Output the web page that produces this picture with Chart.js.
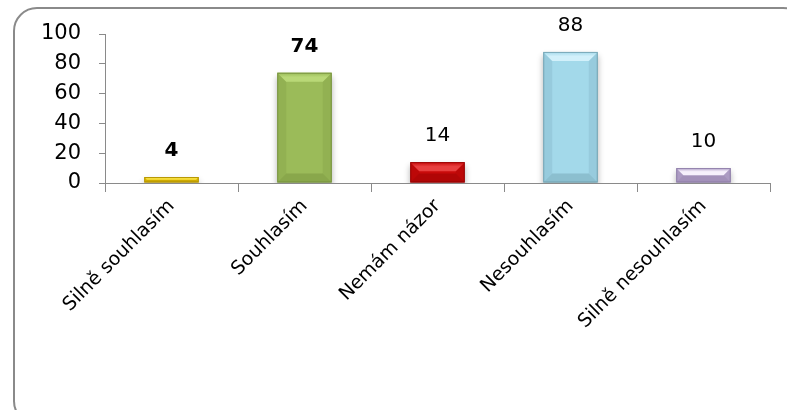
<!DOCTYPE html>
<html lang="cs">
<head>
<meta charset="UTF-8">
<title>Názory respondentů</title>
<script src="https://cdn.jsdelivr.net/npm/chart.js"></script>
<style>
    body {
        margin: 0;
        background: #fff;
    }
    .wrap {
        position: relative;
        width: 787px;
        height: 410px;
        overflow: hidden;
    }
    .frame {
        position: absolute;
        left: 13px;
        top: 7px;
        width: 790px;
        height: 414px;
        border: 2px solid #8a8a8a;
        border-radius: 24px;
    }
    #chart {
        position: absolute;
        left: 0;
        top: 0;
    }
</style>
</head>
<body>
<div class="wrap">
    <div class="frame"></div>
    <canvas id="chart" width="787" height="410"></canvas>
</div>

<script>
    const categories = ['Silně souhlasím', 'Souhlasím', 'Nemám názor', 'Nesouhlasím', 'Silně nesouhlasím'];
    const counts = [4, 74, 14, 88, 10];
    const yTicks = [0, 20, 40, 60, 80, 100];

    // barva plochy, světlá hrana nahoře, tmavá hrana dole / po stranách
    const faceColors  = ['#e8c000', '#9bbb59', '#c80a0a', '#a3d9ea', '#b7a6cc'];
    const lightColors = ['#f8e040', '#b9d877', '#e84040', '#d2f0fa', '#f6f0fc'];
    const darkColors  = ['#a88a00', '#6f8a38', '#8c0000', '#6a98a8', '#8474a0'];
    const boldLabels  = [true, true, false, false, false];

    const font = 'DejaVu Sans';

    // zkosené hrany sloupců (efekt "bevel")
    const bevelPlugin = {
        id: 'bevel',
        afterDatasetsDraw(chart) {
            const ctx = chart.ctx;
            const meta = chart.getDatasetMeta(0);
            meta.data.forEach((bar, i) => {
                const x0 = bar.x - bar.width / 2, x1 = bar.x + bar.width / 2;
                const y0 = bar.y, y1 = bar.base;
                const h = y1 - y0;
                const b = Math.min(9, h / 2);
                ctx.save();
                // boky
                ctx.fillStyle = darkColors[i];
                ctx.globalAlpha = 0.2;
                ctx.beginPath();
                ctx.moveTo(x0, y0); ctx.lineTo(x0 + b, y0 + b); ctx.lineTo(x0 + b, y1 - b); ctx.lineTo(x0, y1);
                ctx.closePath(); ctx.fill();
                ctx.beginPath();
                ctx.moveTo(x1, y0); ctx.lineTo(x1 - b, y0 + b); ctx.lineTo(x1 - b, y1 - b); ctx.lineTo(x1, y1);
                ctx.closePath(); ctx.fill();
                // spodní hrana
                ctx.globalAlpha = 0.4;
                ctx.beginPath();
                ctx.moveTo(x0, y1); ctx.lineTo(x1, y1); ctx.lineTo(x1 - b, y1 - b); ctx.lineTo(x0 + b, y1 - b);
                ctx.closePath(); ctx.fill();
                // horní hrana
                ctx.globalAlpha = 1;
                const g = ctx.createLinearGradient(0, y0, 0, y0 + b);
                g.addColorStop(0, faceColors[i]);
                g.addColorStop(0.5, lightColors[i]);
                g.addColorStop(1, lightColors[i]);
                ctx.fillStyle = g;
                ctx.beginPath();
                ctx.moveTo(x0, y0); ctx.lineTo(x1, y0); ctx.lineTo(x1 - b, y0 + b); ctx.lineTo(x0 + b, y0 + b);
                ctx.closePath(); ctx.fill();
                // obrys
                ctx.strokeStyle = darkColors[i];
                ctx.globalAlpha = 0.8;
                ctx.lineWidth = 1;
                ctx.strokeRect(x0 + 0.5, y0 + 0.5, bar.width - 1, h - 1);
                ctx.restore();

                // hodnota nad sloupcem
                ctx.save();
                ctx.fillStyle = '#000';
                ctx.font = (boldLabels[i] ? 'bold ' : '') + '20px "' + font + '"';
                ctx.textAlign = 'center';
                ctx.textBaseline = 'middle';
                ctx.fillText(String(counts[i]), bar.x, y0 - 26);
                ctx.restore();
            });
        }
    };

    // stín pod sloupci
    const shadowPlugin = {
        id: 'barShadow',
        beforeDatasetsDraw(chart) {
            const ctx = chart.ctx;
            ctx.save();
            ctx.shadowColor = 'rgba(0,0,0,0.3)';
            ctx.shadowBlur = 6;
            ctx.shadowOffsetY = 4;
        },
        afterDatasetsDraw(chart) {
            chart.ctx.restore();
        }
    };

    new Chart(document.getElementById('chart'), {
        type: 'bar',
        data: {
            labels: categories,
            datasets: [{
                data: counts,
                backgroundColor: faceColors,
                borderWidth: 0,
                categoryPercentage: 1,
                barPercentage: 0.41
            }]
        },
        options: {
            responsive: false,
            animation: false,
            layout: { padding: { top: 34, right: 17, left: 0, bottom: 0 } },
            plugins: {
                legend: { display: false },
                tooltip: { enabled: false }
            },
            scales: {
                x: {
                    grid: {
                        offset: true,
                        drawOnChartArea: false,
                        tickLength: 9,
                        color: '#8a8a8a'
                    },
                    border: { color: '#8a8a8a', width: 1 },
                    ticks: {
                        autoSkip: false,
                        maxRotation: 45,
                        minRotation: 45,
                        padding: 3,
                        color: '#000',
                        font: { family: font, size: 19 }
                    },
                    afterFit(scale) {
                        scale.height = 227;
                        scale.paddingLeft = 0;
                        scale.paddingRight = 0;
                    }
                },
                y: {
                    min: 0,
                    max: 100,
                    afterBuildTicks(scale) {
                        scale.ticks = yTicks.map(v => ({ value: v }));
                    },
                    grid: {
                        drawOnChartArea: false,
                        tickLength: 6,
                        color: '#8a8a8a'
                    },
                    border: { color: '#8a8a8a', width: 1 },
                    ticks: {
                        padding: 18,
                        color: '#000',
                        font: { family: font, size: 21 }
                    },
                    afterFit(scale) {
                        scale.width = 105;
                    }
                }
            }
        },
        plugins: [shadowPlugin, bevelPlugin]
    });
</script>
</body>
</html>
